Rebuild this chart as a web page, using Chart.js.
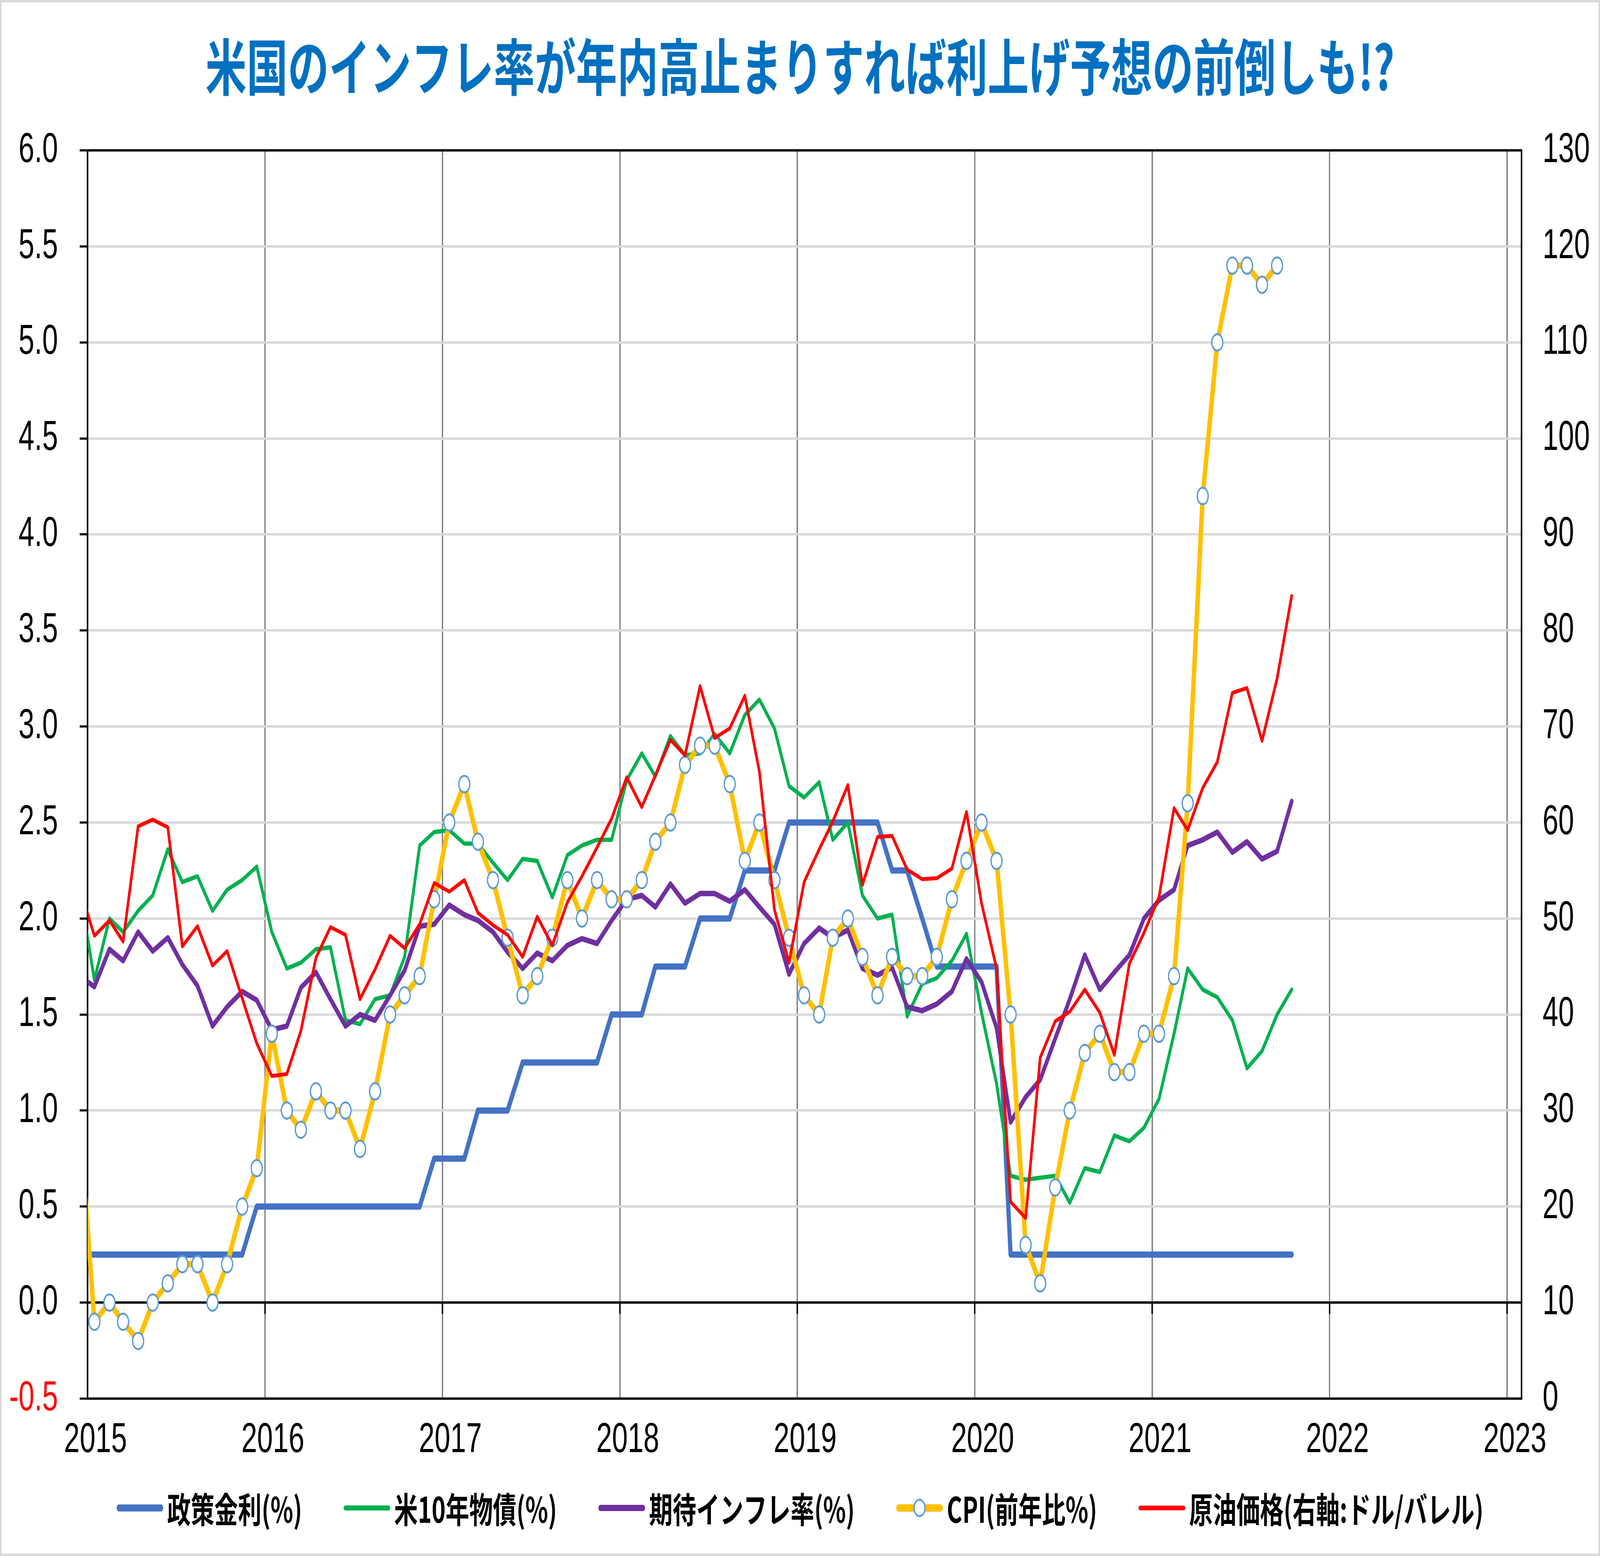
<!DOCTYPE html>
<html lang="ja">
<head>
<meta charset="utf-8">
<title>米国のインフレ率が年内高止まりすれば利上げ予想の前倒しも!?</title>
<script src="https://cdn.jsdelivr.net/npm/chart.js@4.4.1/dist/chart.umd.min.js"></script>
<style>
  html, body { margin: 0; padding: 0; background: #fff; overflow: hidden; }
  #wrap { width: 6102px; height: 3984px; transform-origin: 0 0; }
  canvas { display: block; }
</style>
</head>
<body>
<div id="wrap"><canvas id="chart" width="6102" height="3984"></canvas></div>
<script>
// monthly values, month-end, from 2014-12 to 2021-10
const firstYear = 2014;
const firstMonth = 12;

const titleText = '米国のインフレ率が年内高止まりすれば利上げ予想の前倒しも!?';
const seriesNames = ['政策金利(%)', '米10年物債(%)', '期待インフレ率(%)', 'CPI(前年比%)', '原油価格(右軸:ドル/バレル)'];
const yearTicks = [2015, 2016, 2017, 2018, 2019, 2020, 2021, 2022, 2023];

const policyRate = [
  0.25,
  0.25, 0.25, 0.25, 0.25, 0.25, 0.25, 0.25, 0.25, 0.25, 0.25, 0.25, 0.5,
  0.5, 0.5, 0.5, 0.5, 0.5, 0.5, 0.5, 0.5, 0.5, 0.5, 0.5, 0.75,
  0.75, 0.75, 1.0, 1.0, 1.0, 1.25, 1.25, 1.25, 1.25, 1.25, 1.25, 1.5,
  1.5, 1.5, 1.75, 1.75, 1.75, 2.0, 2.0, 2.0, 2.25, 2.25, 2.25, 2.5,
  2.5, 2.5, 2.5, 2.5, 2.5, 2.5, 2.25, 2.25, 2.0, 1.75, 1.75, 1.75,
  1.75, 1.75, 0.25, 0.25, 0.25, 0.25, 0.25, 0.25, 0.25, 0.25, 0.25, 0.25,
  0.25, 0.25, 0.25, 0.25, 0.25, 0.25, 0.25, 0.25, 0.25, 0.25
];

const bond10y = [
  2.17,
  1.68, 2.00, 1.93, 2.04, 2.12, 2.36, 2.19, 2.22, 2.04, 2.15, 2.20, 2.27,
  1.93, 1.74, 1.77, 1.84, 1.85, 1.47, 1.45, 1.58, 1.60, 1.80, 2.38, 2.45,
  2.46, 2.39, 2.39, 2.29, 2.20, 2.31, 2.30, 2.11, 2.33, 2.38, 2.41, 2.41,
  2.72, 2.86, 2.74, 2.95, 2.85, 2.86, 2.96, 2.86, 3.06, 3.14, 2.99, 2.69,
  2.63, 2.71, 2.41, 2.50, 2.12, 2.00, 2.02, 1.49, 1.66, 1.69, 1.78, 1.92,
  1.51, 1.14, 0.66, 0.64, 0.65, 0.66, 0.52, 0.70, 0.68, 0.87, 0.84, 0.91,
  1.06, 1.40, 1.74, 1.63, 1.59, 1.47, 1.22, 1.31, 1.50, 1.63
];

const breakeven = [
  1.70,
  1.645, 1.84, 1.78, 1.93, 1.83, 1.90, 1.76, 1.65, 1.44, 1.54, 1.62, 1.575,
  1.42, 1.44, 1.64, 1.72, 1.58, 1.44, 1.50, 1.47, 1.60, 1.73, 1.96, 1.97,
  2.07, 2.02, 1.99, 1.93, 1.825, 1.74, 1.82, 1.78, 1.86, 1.895, 1.87, 1.99,
  2.10, 2.12, 2.06, 2.18, 2.08, 2.13, 2.13, 2.09, 2.15, 2.06, 1.97, 1.71,
  1.87, 1.95, 1.90, 1.94, 1.74, 1.705, 1.745, 1.54, 1.52, 1.555, 1.62, 1.79,
  1.67, 1.43, 0.94, 1.07, 1.16, 1.375, 1.58, 1.81, 1.63, 1.72, 1.81, 2.00,
  2.095, 2.15, 2.38, 2.41, 2.45, 2.345, 2.40, 2.31, 2.35, 2.61
];

const cpi = [
  1.0,
  -0.1, 0.0, -0.1, -0.2, 0.0, 0.1, 0.2, 0.2, 0.0, 0.2, 0.5, 0.7,
  1.4, 1.0, 0.9, 1.1, 1.0, 1.0, 0.8, 1.1, 1.5, 1.6, 1.7, 2.1,
  2.5, 2.7, 2.4, 2.2, 1.9, 1.6, 1.7, 1.9, 2.2, 2.0, 2.2, 2.1,
  2.1, 2.2, 2.4, 2.5, 2.8, 2.9, 2.9, 2.7, 2.3, 2.5, 2.2, 1.9,
  1.6, 1.5, 1.9, 2.0, 1.8, 1.6, 1.8, 1.7, 1.7, 1.8, 2.1, 2.3,
  2.5, 2.3, 1.5, 0.3, 0.1, 0.6, 1.0, 1.3, 1.4, 1.2, 1.2, 1.4,
  1.4, 1.7, 2.6, 4.2, 5.0, 5.4, 5.4, 5.3, 5.4, null
];

const crudeOil = [
  53.3,
  48.2, 49.8, 47.6, 59.6, 60.3, 59.5, 47.1, 49.2, 45.1, 46.6, 41.7, 37.0,
  33.6, 33.8, 38.3, 45.9, 49.1, 48.3, 41.6, 44.7, 48.2, 46.9, 49.4, 53.7,
  52.8, 54.0, 50.6, 49.3, 48.3, 46.0, 50.2, 47.2, 51.7, 54.4, 57.4, 60.4,
  64.7, 61.6, 64.9, 68.6, 67.0, 74.2, 68.8, 69.8, 73.2, 65.3, 50.9, 45.4,
  53.8, 57.2, 60.1, 63.9, 53.5, 58.5, 58.6, 55.1, 54.1, 54.2, 55.2, 61.1,
  51.6, 44.8, 20.5, 18.8, 35.5, 39.3, 40.3, 42.6, 40.2, 35.8, 45.3, 48.5,
  52.2, 61.5, 59.2, 63.6, 66.3, 73.5, 74.0, 68.5, 75.0, 83.6
];

const leftTicks = { min: -0.5, max: 6, step: 0.5 };
const rightTicks = { min: 0, max: 130, step: 10 };
const xMin = 2015;
const xMax = 2023 + 30 / 365;

const pageW = 6102;
const pageH = 3984;

// the chart is laid out at 6102x3984 and scaled to whatever the window really is
const fitToWindow = () => {
  const sx = (window.innerWidth || pageW) / pageW;
  const sy = (window.innerHeight || pageH) / pageH;
  document.getElementById('wrap').style.transform = `scale(${sx}, ${sy})`;
};
fitToWindow();
window.addEventListener('resize', fitToWindow);

// mid-month date as a decimal year
const toYear = (index) => {
  const total = firstYear * 12 + (firstMonth - 1) + index;
  const y = Math.floor(total / 12);
  const m = total % 12;
  const start = Date.UTC(y, 0, 1);
  const end = Date.UTC(y + 1, 0, 1);
  return y + (Date.UTC(y, m, 15) - start) / (end - start);
};

const toPoints = (values) => values.map((v, i) => ({ x: toYear(i), y: v }));

const axisFont = { family: "'Liberation Sans', Arial, sans-serif", size: 108 };
const jpFont = '"Noto Sans CJK JP", sans-serif';

// tick marks hanging under the zero line
const zeroTicks = {
  id: 'zeroTicks',
  beforeDatasetsDraw(chart) {
    const { ctx, scales } = chart;
    const y0 = scales.y.getPixelForValue(0);
    ctx.save();
    ctx.strokeStyle = '#000';
    ctx.lineWidth = 5.5;
    yearTicks.forEach((yr) => {
      const x = scales.x.getPixelForValue(yr);
      ctx.beginPath();
      ctx.moveTo(x, y0);
      ctx.lineTo(x, y0 + 29);
      ctx.stroke();
    });
    ctx.restore();
  },
};

const bottomLegend = {
  id: 'bottomLegend',
  afterDraw(chart) {
    const { ctx } = chart;
    const swatch = 178;
    const gap = 15;
    const itemGap = 158;
    const y = 3861;
    ctx.save();
    ctx.font = 'bold 90px ' + jpFont;
    ctx.textBaseline = 'middle';
    const sets = chart.data.datasets;
    const widths = sets.map((d) => ctx.measureText(d.label).width);
    const total = widths.reduce((a, b) => a + b, 0) + sets.length * (swatch + gap) + (sets.length - 1) * itemGap;
    let x = (chart.width - total) / 2;
    sets.forEach((d, i) => {
      const lw = d.borderWidth + 2;
      ctx.strokeStyle = d.borderColor;
      ctx.lineWidth = lw;
      ctx.lineCap = 'round';
      ctx.beginPath();
      ctx.moveTo(x + lw / 2, y);
      ctx.lineTo(x + swatch - lw / 2, y);
      ctx.stroke();
      if (d.pointRadius > 0) {
        ctx.beginPath();
        ctx.arc(x + swatch / 2, y, d.pointRadius, 0, Math.PI * 2);
        ctx.fillStyle = d.pointBackgroundColor;
        ctx.fill();
        ctx.lineWidth = d.pointBorderWidth;
        ctx.strokeStyle = d.pointBorderColor;
        ctx.stroke();
      }
      ctx.fillStyle = '#000';
      ctx.fillText(d.label, x + swatch + gap, y + 4);
      x += swatch + gap + widths[i] + itemGap;
    });
    ctx.restore();
  },
};

const pageFrame = {
  id: 'pageFrame',
  afterDraw(chart) {
    const { ctx, width, height } = chart;
    ctx.save();
    ctx.strokeStyle = '#d9d9d9';
    ctx.lineWidth = 6;
    ctx.strokeRect(3, 3, width - 6, height - 6);
    ctx.restore();
  },
};

const lineSet = (label, values, color, width, axis, order) => ({
  label,
  data: toPoints(values),
  borderColor: color,
  backgroundColor: color,
  borderWidth: width,
  pointRadius: 0,
  tension: 0,
  borderJoinStyle: 'round',
  borderCapStyle: 'round',
  yAxisID: axis,
  order,
  clip: 0,
});

const cpiSet = lineSet(seriesNames[3], cpi, '#FFC000', 17, 'y', 2);
cpiSet.pointRadius = 21;
cpiSet.pointBorderWidth = 5;
cpiSet.pointBorderColor = '#5B9BD5';
cpiSet.pointBackgroundColor = '#FFFFFF';

new Chart(document.getElementById('chart'), {
  type: 'line',
  data: {
    datasets: [
      lineSet(seriesNames[0], policyRate, '#4472C4', 16, 'y', 5),
      lineSet(seriesNames[1], bond10y, '#00B050', 11, 'y', 4),
      lineSet(seriesNames[2], breakeven, '#7030A0', 14, 'y', 3),
      cpiSet,
      lineSet(seriesNames[4], crudeOil, '#FF0000', 10, 'y2', 1),
    ],
  },
  options: {
    responsive: false,
    animation: false,
    devicePixelRatio: 1,
    layout: { padding: 0 },
    plugins: {
      legend: { display: false },
      tooltip: { enabled: false },
      title: {
        display: true,
        text: titleText,
        color: '#0070C0',
        font: { family: jpFont, size: 157, weight: 'bold', lineHeight: 1 },
        padding: { top: 93, bottom: 135 },
      },
    },
    scales: {
      x: {
        type: 'linear',
        min: xMin,
        max: xMax,
        afterFit: (s) => { s.height = 403; },
        afterBuildTicks: (s) => { s.ticks = yearTicks.map((v) => ({ value: v })); },
        ticks: {
          autoSkip: false,
          maxRotation: 0,
          labelOffset: 30,
          padding: 42,
          color: '#000',
          font: axisFont,
          callback: (v) => String(v),
        },
        grid: {
          color: (c) => (c.tick && c.tick.value === xMin ? '#000' : '#808080'),
          lineWidth: 5,
          drawTicks: false,
        },
        border: { color: '#000', width: 5.5 },
      },
      y: {
        position: 'left',
        min: leftTicks.min,
        max: leftTicks.max,
        afterFit: (s) => { s.width = 334; },
        ticks: {
          stepSize: leftTicks.step,
          padding: 83,
          color: (c) => (c.tick.value < 0 ? '#FF0000' : '#000'),
          font: axisFont,
          callback: (v) => v.toFixed(1),
        },
        grid: {
          color: (c) => {
            const v = c.tick ? c.tick.value : null;
            return v === 0 || v === leftTicks.max || v === leftTicks.min ? '#000' : '#d9d9d9';
          },
          lineWidth: 6,
          tickLength: 30,
          tickColor: '#000',
          tickWidth: 5.5,
        },
        border: { color: '#000', width: 5.5 },
      },
      y2: {
        position: 'right',
        min: rightTicks.min,
        max: rightTicks.max,
        afterFit: (s) => { s.width = 299; },
        ticks: {
          stepSize: rightTicks.step,
          padding: 80,
          color: '#000',
          font: axisFont,
        },
        grid: { display: false, drawTicks: false },
        border: { color: '#000', width: 5.5 },
      },
    },
  },
  plugins: [zeroTicks, bottomLegend, pageFrame],
});
</script>
</body>
</html>
